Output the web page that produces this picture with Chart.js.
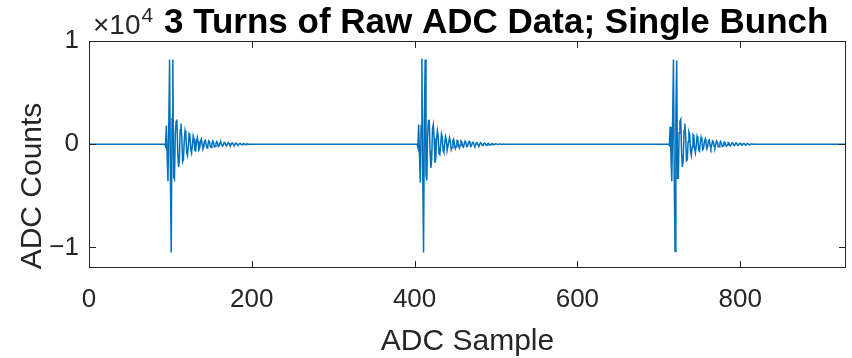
<!DOCTYPE html>
<html>
<head>
<meta charset="utf-8">
<script src="https://cdn.jsdelivr.net/npm/chart.js@4.4.1/dist/chart.umd.min.js"></script>
<style>
  html, body { margin: 0; padding: 0; background: #fff; }
  #wrap { width: 852px; height: 358px; }
</style>
</head>
<body>
<div id="wrap"><canvas id="adc" width="852" height="358"></canvas></div>
<script>
// raw ADC record, 3 turns of 310 samples, one bunch per turn
const recordFirst = 1;
const recordLast = 930;

const turn1Start = 93;
const turn1Counts = [
  0, -200, 1800, -1200, -3600, 2000, 8200, -3000, -10500, 2500,
  8200, -3200, -3400, 1000, 2200, 2400, -800, -2200, -1600, 1400,
  2000, 700, -1700, -1500, 300, 1300, 900, -800, -1100, -200,
  1000, 800, -500, -850, -100, 800, 500, -600, -650, 200,
  650, 250, -550, -400, 300, 500, 50, -450, -250, 350,
  380, -100, -380, -100, 330, 250, -200, -320, 20, 300,
  150, -250, -230, 100, 260, 60, -230, -150, 160, 200,
  -20, -200, -80, 170, 140, -80, -170, -10, 150, 80,
  -110, -130, 40, 120, 30, -110, -80, 70, 100, -20,
  -90, -30, 70, 60, -40, -60, 10, 50, 20, -40,
  -30, 20, 30, 0, -20, -10, 10, 0
];

const turn2Start = 403;
const turn2Counts = [
  0, -300, 1900, -1000, -3700, 1800, 8300, -2800, -10500, 2300,
  8200, -3000, -3500, 900, 2300, 2300, -700, -2300, -1500, 1500,
  1900, 600, -1800, -1400, 400, 1300, 800, -900, -1000, -100,
  1000, 700, -600, -800, 0, 750, 450, -600, -600, 250,
  620, 200, -550, -350, 320, 480, 0, -430, -220, 360,
  350, -120, -370, -80, 320, 230, -210, -300, 40, 290,
  130, -250, -210, 110, 250, 40, -220, -140, 170, 180,
  -30, -190, -60, 160, 120, -90, -160, 0, 140, 70,
  -120, -110, 50, 110, 20, -100, -70, 70, 90, -30,
  -80, -20, 60, 50, -40, -50, 20, 40, 10, -30,
  -30, 20, 20, 0, -20, 0, 10, 0
];

const turn3Start = 712;
const turn3Counts = [
  0, -100, 1700, -1300, -3600, 2100, 8200, -3100, -10400, 2600,
  8100, -3300, -3300, 1100, 2200, 2400, -900, -2200, -1600, 1300,
  2000, 800, -1600, -1500, 200, 1200, 950, -700, -1100, -250,
  950, 850, -450, -850, -150, 780, 520, -580, -670, 180,
  660, 280, -530, -420, 280, 510, 70, -460, -270, 330,
  390, -80, -390, -120, 320, 260, -190, -330, 0, 310,
  160, -240, -240, 90, 270, 70, -220, -160, 150, 210,
  -10, -200, -90, 160, 150, -70, -170, -20, 140, 90,
  -100, -130, 30, 120, 40, -110, -90, 60, 100, -10,
  -90, -40, 60, 60, -30, -60, 0, 50, 30, -30,
  -40, 10, 30, 10, -20, -10, 10, 0
];

const xTicks = [0, 200, 400, 600, 800];
const yTicks = [-10000, 0, 10000];
const yExponent = 4;

const titleText = '3 Turns of Raw ADC Data; Single Bunch';
const xLabel = 'ADC Sample';
const yLabel = 'ADC Counts';

// build the {x, y} series from the arrays above
function burstPoints(start, counts) {
  return counts.map((c, i) => ({ x: start + i, y: c }));
}
const points = [
  { x: recordFirst, y: 0 },
  ...burstPoints(turn1Start, turn1Counts),
  ...burstPoints(turn2Start, turn2Counts),
  ...burstPoints(turn3Start, turn3Counts),
  { x: recordLast, y: 0 }
];

const axisColor = '#262626';
const fontFamily = '"Liberation Sans", Arial, Helvetica, sans-serif';

// MATLAB-style box, inward ticks, title and labels
const matlabAxes = {
  id: 'matlabAxes',
  afterDraw(chart) {
    const ctx = chart.ctx;
    const a = chart.chartArea;
    const xs = chart.scales.x;
    const ys = chart.scales.y;
    const tl = 7;
    ctx.save();
    ctx.strokeStyle = axisColor;
    ctx.lineWidth = 1;
    ctx.strokeRect(a.left + 0.5, a.top + 0.5, a.right - a.left - 1, a.bottom - a.top - 1);
    ctx.beginPath();
    xTicks.forEach(v => {
      const px = Math.round(xs.getPixelForValue(v)) + 0.5;
      ctx.moveTo(px, a.bottom); ctx.lineTo(px, a.bottom - tl);
      ctx.moveTo(px, a.top); ctx.lineTo(px, a.top + tl);
    });
    yTicks.forEach(v => {
      const py = Math.round(ys.getPixelForValue(v)) + 0.5;
      ctx.moveTo(a.left, py); ctx.lineTo(a.left + tl, py);
      ctx.moveTo(a.right, py); ctx.lineTo(a.right - tl, py);
    });
    ctx.stroke();

    ctx.fillStyle = axisColor;
    ctx.textBaseline = 'alphabetic';
    // exponent label
    ctx.textAlign = 'left';
    ctx.font = '28px ' + fontFamily;
    ctx.fillText('\u00d710', 93, 34);
    const w = ctx.measureText('\u00d710').width;
    ctx.font = '21px ' + fontFamily;
    ctx.fillText(String(yExponent), 93 + w + 1, 22);

    // title
    ctx.fillStyle = '#000';
    ctx.font = 'bold 35px ' + fontFamily;
    ctx.fillText(titleText, 164, 33);

    // axis labels
    ctx.fillStyle = axisColor;
    ctx.font = '30px ' + fontFamily;
    ctx.textAlign = 'center';
    ctx.fillText(xLabel, (a.left + a.right) / 2, 350);
    ctx.translate(41, 186);
    ctx.rotate(-Math.PI / 2);
    ctx.fillText(yLabel, 0, 0);
    ctx.restore();
  }
};

new Chart(document.getElementById('adc'), {
  type: 'line',
  data: {
    datasets: [{
      label: 'ADC',
      data: points,
      borderColor: '#0072BD',
      borderWidth: 1.5,
      pointRadius: 0,
      tension: 0,
      fill: false
    }]
  },
  options: {
    responsive: false,
    animation: false,
    devicePixelRatio: 1,
    layout: { padding: { top: 41, right: 6, left: 0, bottom: 0 } },
    plugins: {
      legend: { display: false },
      tooltip: { enabled: false },
      title: { display: false }
    },
    scales: {
      x: {
        type: 'linear',
        min: 0,
        max: 930,
        grid: { display: false, drawTicks: false },
        border: { display: false },
        afterBuildTicks: s => { s.ticks = xTicks.map(v => ({ value: v })); },
        afterFit: s => { s.height = 90; },
        ticks: {
          padding: 16,
          color: axisColor,
          font: { family: fontFamily, size: 26 },
          maxRotation: 0,
          callback: v => String(v)
        }
      },
      y: {
        type: 'linear',
        min: -12000,
        max: 10000,
        grid: { display: false, drawTicks: false },
        border: { display: false },
        afterBuildTicks: s => { s.ticks = yTicks.map(v => ({ value: v })); },
        afterFit: s => { s.width = 89; },
        ticks: {
          padding: 10,
          color: axisColor,
          font: { family: fontFamily, size: 26 },
          callback: v => String(v / Math.pow(10, yExponent)).replace('-', '\u2212')
        }
      }
    }
  },
  plugins: [matlabAxes]
});
</script>
</body>
</html>
